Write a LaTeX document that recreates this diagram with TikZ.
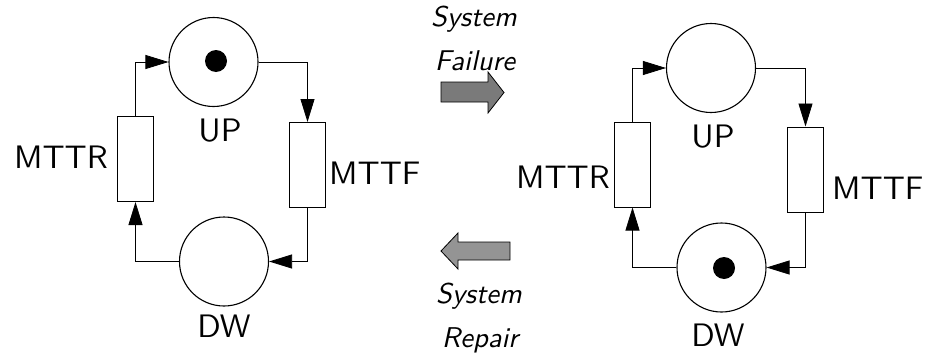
\documentclass[tikz,border=0pt]{standalone}
\usepackage{fontspec}
\newfontfamily\lmsten{lmsans10-regular.otf}
\newfontfamily\lmstenobl{lmsans10-oblique.otf}
\usetikzlibrary{arrows.meta}
\begin{document}
\begin{tikzpicture}[x=1pt,y=-1pt,
  place/.style={draw,circle,line width=1.1pt,minimum size=89pt,inner sep=0pt},
  tokendot/.style={fill=black,circle,minimum size=22pt,inner sep=0pt},
  trans/.style={draw,rectangle,line width=1pt,minimum width=36pt,minimum height=85pt,inner sep=0pt},
  arc/.style={line width=0.8pt,-{Triangle[length=23pt,width=14pt]}},
  lab/.style={font=\fontsize{32.5}{36}\selectfont\lmsten,inner sep=0pt},
  itlab/.style={font=\fontsize{28.6}{32}\selectfont\lmstenobl,inner sep=0pt,anchor=base},
  blockarrow/.style={draw=black,line width=0.8pt,line join=miter}]
\useasboundingbox (0,0) rectangle (929,356);
% ---------- left net ----------
\node[place] (upA) at (213.5,62) {};
\node[tokendot] (tokA) at (216,61) {};
\node[trans] (mttrA) at (135.5,159) {};
\node[trans] (mttfA) at (307.5,165) {};
\node[place] (dwA) at (224,261.5) {};
\node[lab] (upAl) at (220,131) {UP};
\node[lab] (dwAl) at (224,326) {DW};
\node[lab,anchor=east] (mttrAl) at (108,157) {MTTR};
\node[lab,anchor=west] (mttfAl) at (329,173) {MTTF};
\draw[arc] (mttrA.north) |- (upA.west);
\draw[arc] (upA.east) -| (mttfA.north);
\draw[arc] (mttfA.south) |- (dwA.east);
\draw[arc] (dwA.west) -| (mttrA.south);
% ---------- right net ----------
\node[place] (upB) at (711,68) {};
\node[trans] (mttrB) at (632.5,164.5) {};
\node[trans] (mttfB) at (805.5,169.5) {};
\node[place] (dwB) at (721.5,267.5) {};
\node[tokendot] (tokB) at (724,268) {};
\node[lab] (upBl) at (713,137) {UP};
\node[lab] (dwBl) at (718,335) {DW};
\node[lab,anchor=east] (mttrBl) at (610,177) {MTTR};
\node[lab,anchor=west] (mttfBl) at (832,188) {MTTF};
\draw[arc] (mttrB.north) |- (upB.west);
\draw[arc] (upB.east) -| (mttfB.north);
\draw[arc] (mttfB.south) |- (dwB.east);
\draw[arc] (dwB.west) -| (mttrB.south);
% ---------- middle ----------
\node[itlab] (sys1) at (474,27) {System};
\node[itlab] (fail) at (475,70) {Failure};
\node[itlab] (sys2) at (479,303) {System};
\node[itlab] (rep) at (480,347) {Repair};
\filldraw[blockarrow,fill=black!52] (441,82) -- (488,82) -- (488,72) -- (504,92.5) -- (488,113) -- (488,102) -- (441,102) -- cycle;
\filldraw[blockarrow,fill=black!42] (510,242) -- (458,242) -- (458,233) -- (441,251) -- (458,269) -- (458,260) -- (510,260) -- cycle;
\end{tikzpicture}
\end{document}
